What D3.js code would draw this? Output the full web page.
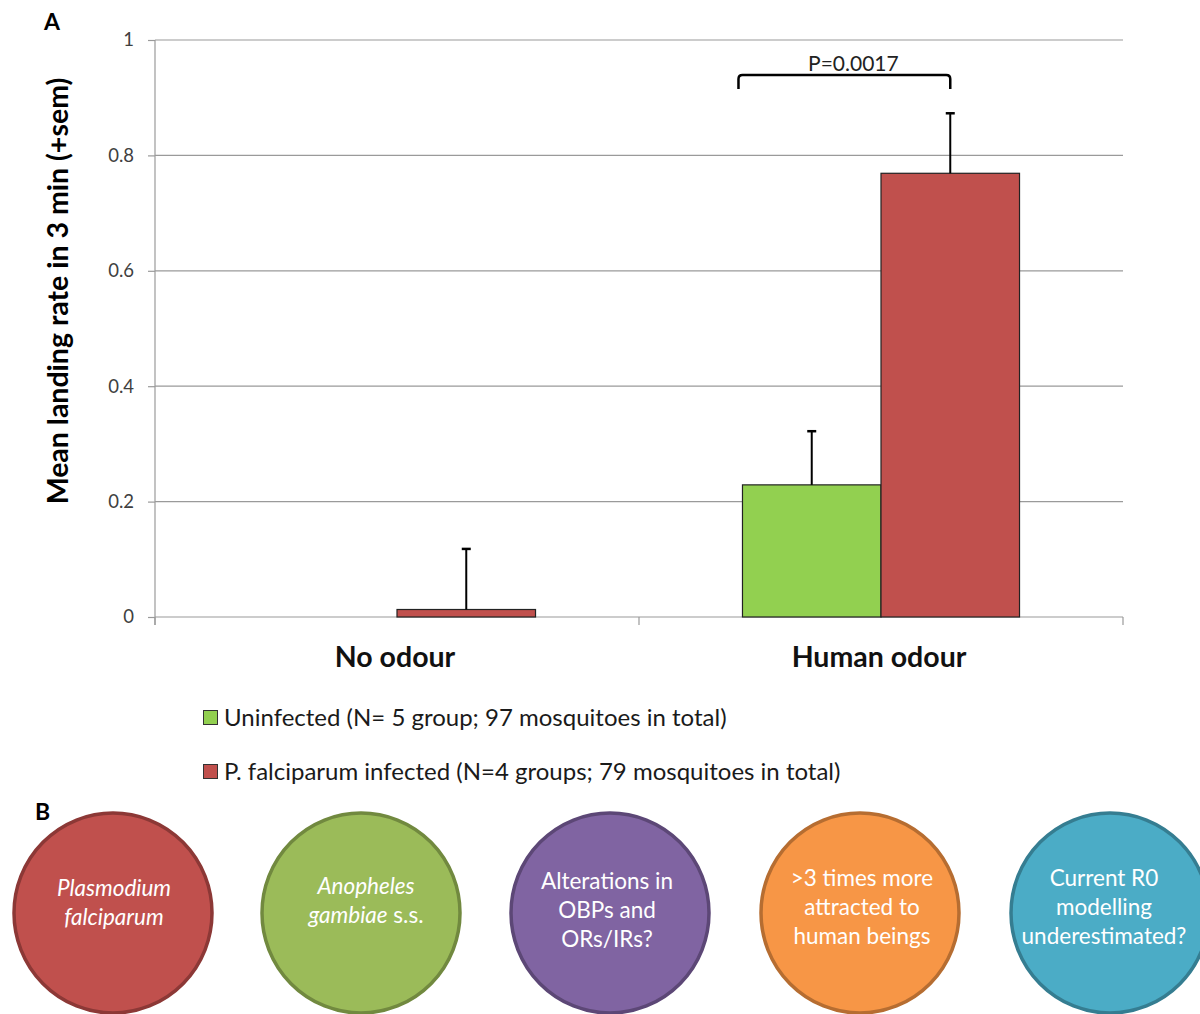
<!DOCTYPE html>
<html>
<head>
<meta charset="utf-8">
<script src="https://cdn.jsdelivr.net/npm/d3@7"></script>
<style>
  html, body { margin: 0; padding: 0; background: #fff; }
  svg { display: block; font-family: Lato, "Open Sans", sans-serif; }
</style>
</head>
<body>
<svg id="chart" width="1200" height="1014"></svg>
<script>
// ---- data ----
const categories = ["No odour", "Human odour"];
const seriesNames = ["Uninfected (N= 5 group; 97 mosquitoes in total)",
                     "P. falciparum infected (N=4 groups; 79 mosquitoes in total)"];
const uninfected = [0, 0.229];
const uninfectedSem = [0, 0.093];
const infected = [0.013, 0.769];
const infectedSem = [0.105, 0.104];
const yTicks = [0, 0.2, 0.4, 0.6, 0.8, 1];
const yTickLabels = ["0", "0.2", "0.4", "0.6", "0.8", "1"];
const pLabel = "P=0.0017";
const circleTexts = [
  [[["Plasmodium", true]], [["falciparum", true]]],
  [[["Anopheles", true]], [["gambiae", true], [" s.s.", false]]],
  [[["Alterations in", false]], [["OBPs and", false]], [["ORs/IRs?", false]]],
  [[[">3 times more", false]], [["attracted to", false]], [["human beings", false]]],
  [[["Current R0", false]], [["modelling", false]], [["underestimated?", false]]]
];
const circleFills = ["#C0504D", "#9BBB59", "#8064A2", "#F79646", "#4BACC6"];
const circleStrokes = ["#8C3836", "#71893F", "#5C4776", "#B66D31", "#357D91"];
const seriesColors = ["#92D050", "#C0504D"];

(function () {
const svg = d3.select("#chart");
const pLeft = 155, pRight = 1123, pTop = 40, pBottom = 617;

const y = d3.scaleLinear().domain([0, 1]).range([pBottom, pTop]);
const x0 = d3.scaleBand().domain(categories).range([pLeft, pRight]).padding(0);
const x1 = d3.scaleBand().domain([0, 1]).range([0, x0.bandwidth()]).paddingInner(0).paddingOuter(0.747);

// gridlines
svg.append("g").selectAll("line").data(yTicks.filter(d => d > 0)).join("line")
  .attr("x1", pLeft).attr("x2", pRight)
  .attr("y1", d => y(d)).attr("y2", d => y(d))
  .attr("stroke", "#9a9a9a").attr("stroke-width", 1.2);

// y axis
const yAxis = d3.axisLeft(y).tickValues(yTicks).tickFormat((d, i) => yTickLabels[i]).tickSize(7).tickPadding(14);
const gy = svg.append("g").attr("transform", `translate(${pLeft},0)`).call(yAxis);
gy.select(".domain").remove();
gy.selectAll(".tick line").attr("stroke", "#9a9a9a").attr("stroke-width", 1.2);
gy.selectAll(".tick text").attr("font-size", 18.5).attr("fill", "#404040")
  .attr("font-family", "Lato, sans-serif");
svg.append("line").attr("x1", pLeft).attr("x2", pLeft).attr("y1", pTop).attr("y2", pBottom + 8)
  .attr("stroke", "#9a9a9a").attr("stroke-width", 1.2);

// x axis
const xAxis = d3.axisBottom(x0).tickSize(0).tickFormat("");
const gx = svg.append("g").attr("transform", `translate(0,${pBottom})`).call(xAxis);
gx.select(".domain").attr("stroke", "#9a9a9a").attr("stroke-width", 1.2).attr("d", `M${pLeft},0H${pRight}`);
const bounds = [pLeft, ...categories.map(c => x0(c) + x0.bandwidth())];
svg.append("g").selectAll("line").data(bounds).join("line")
  .attr("x1", d => d).attr("x2", d => d).attr("y1", pBottom).attr("y2", pBottom + 8)
  .attr("stroke", "#9a9a9a").attr("stroke-width", 1.2);

// category labels
svg.append("g").selectAll("text").data(categories).join("text")
  .attr("x", d => x0(d) + x0.bandwidth() / 2 - 2).attr("y", 667)
  .attr("text-anchor", "middle").attr("font-size", 28.5).attr("font-weight", "bold")
  .attr("fill", "#111").text(d => d);

// bars
const vals = [uninfected, infected];
const sems = [uninfectedSem, infectedSem];
const barData = [];
categories.forEach((c, ci) => {
  [0, 1].forEach(si => barData.push({ c, si, v: vals[si][ci], e: sems[si][ci] }));
});
svg.append("g").selectAll("rect").data(barData.filter(d => d.v > 0)).join("rect")
  .attr("x", d => x0(d.c) + x1(d.si)).attr("width", x1.bandwidth())
  .attr("y", d => y(d.v)).attr("height", d => y(0) - y(d.v))
  .attr("fill", d => seriesColors[d.si]).attr("stroke", "#222").attr("stroke-width", 1.2);

// error bars
const eb = svg.append("g").attr("stroke", "#000").attr("stroke-width", 2);
barData.filter(d => d.e > 0).forEach(d => {
  const cx = x0(d.c) + x1(d.si) + x1.bandwidth() / 2;
  eb.append("line").attr("x1", cx).attr("x2", cx).attr("y1", y(d.v)).attr("y2", y(d.v + d.e));
  eb.append("line").attr("x1", cx - 4.5).attr("x2", cx + 4.5).attr("y1", y(d.v + d.e)).attr("y2", y(d.v + d.e)).attr("stroke-width", 2.5);
});

// significance bracket
const hc = categories[1];
const bx1 = x0(hc) + x1(0) - 4;
const bx2 = x0(hc) + x1(1) + x1.bandwidth() / 2;
const by = 75, bh = 14, r = 4;
svg.append("path")
  .attr("d", `M${bx1},${by + bh} V${by + r} Q${bx1},${by} ${bx1 + r},${by} H${bx2 - r} Q${bx2},${by} ${bx2},${by + r} V${by + bh}`)
  .attr("fill", "none").attr("stroke", "#000").attr("stroke-width", 2.5);
svg.append("text").attr("x", (bx1 + bx2) / 2 + 9).attr("y", 71).attr("text-anchor", "middle")
  .attr("font-size", 21).attr("fill", "#222").text(pLabel);

// y title
svg.append("text").attr("transform", `translate(68,291) rotate(-90)`)
  .attr("text-anchor", "middle").attr("font-size", 28.5).attr("font-weight", "bold")
  .attr("fill", "#000").text("Mean landing rate in 3 min (+sem)");

// panel labels
svg.append("text").attr("x", 44).attr("y", 30).attr("font-size", 23).attr("font-weight", "bold").text("A");
svg.append("text").attr("x", 35).attr("y", 820).attr("font-size", 23).attr("font-weight", "bold").text("B");

// legend
const lg = svg.append("g");
seriesNames.forEach((s, i) => {
  const ly = 710 + i * 54;
  lg.append("rect").attr("x", 203.5).attr("y", ly + 0.5).attr("width", 14).attr("height", 14)
    .attr("fill", seriesColors[i]).attr("stroke", "#333").attr("stroke-width", 1);
  lg.append("text").attr("x", 224).attr("y", ly + 16).attr("font-size", 24).attr("fill", "#1a1a1a").text(s);
});

// panel B circles
const circleCx = [113, 361, 610, 860, 1110];
const circleCy = [913, 913, 913, 913, 913];
const circleTextTop = [888, 886, 881, 878, 878];
const circleTextX = [114, 366, 607, 862, 1104];
const cg = svg.append("g");
circleFills.forEach((f, i) => {
  cg.append("ellipse").attr("cx", circleCx[i]).attr("cy", circleCy[i]).attr("rx", 99).attr("ry", 100)
    .attr("fill", f).attr("stroke", circleStrokes[i]).attr("stroke-width", 3.5);
  circleTexts[i].forEach((line, li) => {
    const t = cg.append("text").attr("x", circleTextX[i]).attr("y", circleTextTop[i] + li * 29 + 8)
      .attr("text-anchor", "middle").attr("font-size", 22.5).attr("fill", "#fff");
    line.forEach(([txt, it]) => t.append("tspan").attr("font-style", it ? "italic" : "normal").text(txt));
  });
});
})();
</script>
</body>
</html>
